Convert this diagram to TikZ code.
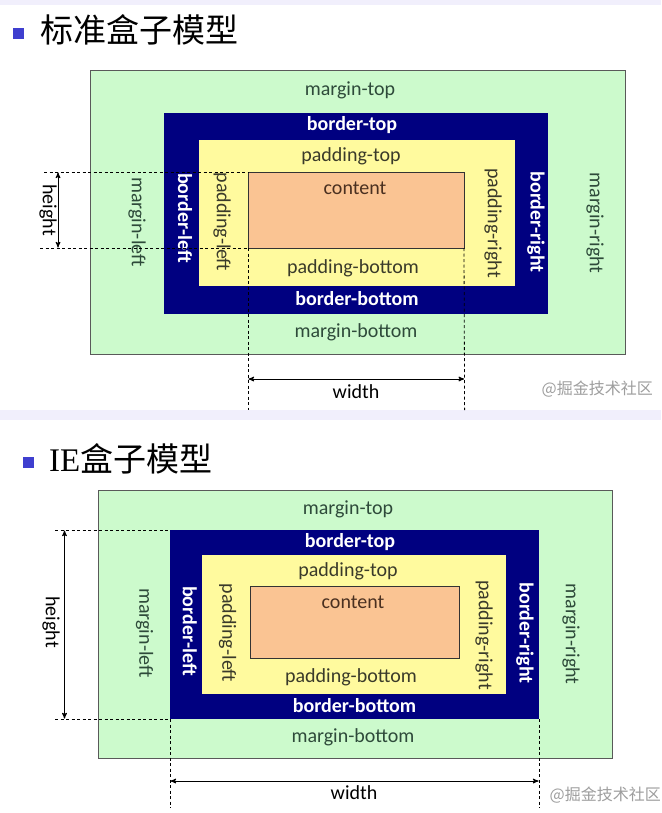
\documentclass[tikz,border=0pt]{standalone}
\usepackage{fontspec}
\setmainfont{Carlito}
\newfontfamily\cjk{Noto Sans CJK SC}
\newfontfamily\titlelatin{Liberation Serif}
\usetikzlibrary{positioning, arrows}

\definecolor{margingreen}{HTML}{CCFACC}
\definecolor{bordernavy}{HTML}{000080}
\definecolor{paddingyellow}{HTML}{FFFA9E}
\definecolor{contentpeach}{HTML}{FAC493}
\definecolor{margintext}{HTML}{2E4A3A}
\definecolor{paddingtext}{HTML}{3A3A2A}
\definecolor{contenttext}{HTML}{4A3020}
\definecolor{bulletblue}{HTML}{3F3FCF}
\definecolor{bandlilac}{HTML}{F1EFFC}

\begin{document}
\begin{tikzpicture}[x=1pt,y=-1pt,>=stealth',
            box/.style={anchor=north west,inner sep=0pt,outer sep=0pt},
            lbl/.style={inner sep=0pt,font=\fontsize{20}{20}\selectfont},
            mlbl/.style={lbl,text=margintext},
            blbl/.style={lbl,text=white,font=\fontsize{20}{20}\selectfont\bfseries},
            plbl/.style={lbl,text=paddingtext},
            clbl/.style={lbl,text=contenttext},
            dim/.style={<->,line width=1pt,shorten <=0.5pt,shorten >=0.5pt},
            guide/.style={dashed,line width=0.8pt,dash pattern=on 3pt off 2.5pt},
            bullet/.style={fill=bulletblue,minimum size=11pt,inner sep=0pt},
            heading/.style={anchor=west,inner sep=0pt,font=\cjk\fontsize{33}{33}\selectfont},
            watermark/.style={anchor=east,inner sep=0pt,text=black!38,font=\cjk\fontsize{16}{16}\selectfont}]
            \useasboundingbox (0,0) rectangle (661,813);
            \fill[white] (0,0) rectangle (661,813);
            \fill[bandlilac] (0,0) rectangle (661,5);
            \fill[bandlilac] (0,410) rectangle (661,420);

            % standard box model
            \node[bullet]  (B1) at (18,33.5) {};
            \node[heading] (T1) at (40,30) {标准盒子模型};

            \node[box,fill=margingreen,draw=black!65,minimum width=535pt,minimum height=284pt] (M1) at (90,70) {};
            \node[box,fill=bordernavy,minimum width=384pt,minimum height=201pt]   (O1) at (164,113) {};
            \node[box,fill=paddingyellow,minimum width=316pt,minimum height=146pt] (P1) at (199,140) {};
            \node[box,fill=contentpeach,draw=black!80,minimum width=216pt,minimum height=76pt] (C1) at (248,172) {};

            \node[mlbl] (mt1) at (350,90)  {margin-top};
            \node[blbl] (bt1) at (352,125) {border-top};
            \node[plbl] (pt1) at (351,156) {padding-top};
            \node[clbl] (ct1) at (355,188) {content};
            \node[plbl] (pb1) at (353,268) {padding-bottom};
            \node[blbl] (bb1) at (357,299) {border-bottom};
            \node[mlbl] (mb1) at (356,332) {margin-bottom};
            \node[mlbl,rotate=-90] (ml1) at (137,222) {margin-left};
            \node[blbl,rotate=-90] (bl1) at (185,218) {border-left};
            \node[plbl,rotate=-90] (pl1) at (222,222) {padding-left};
            \node[plbl,rotate=-90] (pr1) at (493,223) {padding-right};
            \node[blbl,rotate=-90] (br1) at (536,222) {border-right};
            \node[mlbl,rotate=-90] (mr1) at (595,223) {margin-right};

            \coordinate (ht1) at (44,172);
            \coordinate (hb1) at (40,248);
            \coordinate (wl1) at (248,410);
            \coordinate (wr1) at (464.6,410);
            \coordinate (ha1) at (58,172);
            \coordinate (hz1) at (58,248);
            \coordinate (wa1) at (248,379);
            \coordinate (wz1) at (464.6,379);

            \draw[guide] (ht1) -- (C1.north west);
            \draw[guide] (hb1) -- (C1.south west);
            \draw[guide] (C1.south west) -- (wl1);
            \draw[guide] (C1.south east) -- (wr1);
            \path (ha1) edge[dim] (hz1)
                  (wa1) edge[dim] (wz1);
            \node[lbl,rotate=-90] (h1) at (48,210) {height};
            \node[lbl] (w1) at (356,392) {width};
            \node[watermark] (wm1) at (653,389) {@掘金技术社区};

            % IE box model
            \node[bullet]  (B2) at (28.5,462.5) {};
            \node[heading] (T2) at (49,459) {{\titlelatin IE}盒子模型};

            \node[box,fill=margingreen,draw=black!65,minimum width=514pt,minimum height=268pt] (M2) at (98,490) {};
            \node[box,fill=bordernavy,minimum width=369pt,minimum height=189pt]   (O2) at (170,530) {};
            \node[box,fill=paddingyellow,minimum width=304pt,minimum height=139pt] (P2) at (202,555) {};
            \node[box,fill=contentpeach,draw=black!80,minimum width=209pt,minimum height=72pt] (C2) at (250,586) {};

            \node[mlbl] (mt2) at (348,509) {margin-top};
            \node[blbl] (bt2) at (350,542) {border-top};
            \node[plbl] (pt2) at (348,571) {padding-top};
            \node[clbl] (ct2) at (353,602) {content};
            \node[plbl] (pb2) at (351,677) {padding-bottom};
            \node[blbl] (bb2) at (354.5,706) {border-bottom};
            \node[mlbl] (mb2) at (353,737) {margin-bottom};
            \node[mlbl,rotate=-90] (ml2) at (144.6,633) {margin-left};
            \node[blbl,rotate=-90] (bl2) at (189.7,631) {border-left};
            \node[plbl,rotate=-90] (pl2) at (227.7,633) {padding-left};
            \node[plbl,rotate=-90] (pr2) at (484,635) {padding-right};
            \node[blbl,rotate=-90] (br2) at (525,633) {border-right};
            \node[mlbl,rotate=-90] (mr2) at (571,634) {margin-right};

            \coordinate (ht2) at (55,530);
            \coordinate (hb2) at (55,719);
            \coordinate (wl2) at (170,808);
            \coordinate (wr2) at (539,808);
            \coordinate (ha2) at (64.5,530);
            \coordinate (hz2) at (64.5,719);
            \coordinate (wa2) at (170,781);
            \coordinate (wz2) at (539,781);

            \draw[guide] (ht2) -- (O2.north west);
            \draw[guide] (hb2) -- (O2.south west);
            \draw[guide] (O2.south west) -- (wl2);
            \draw[guide] (O2.south east) -- (wr2);
            \path (ha2) edge[dim] (hz2)
                  (wa2) edge[dim] (wz2);
            \node[lbl,rotate=-90] (h2) at (51,622) {height};
            \node[lbl] (w2) at (354,793) {width};
            \node[watermark] (wm2) at (661,795) {@掘金技术社区};
\end{tikzpicture}
\end{document}
